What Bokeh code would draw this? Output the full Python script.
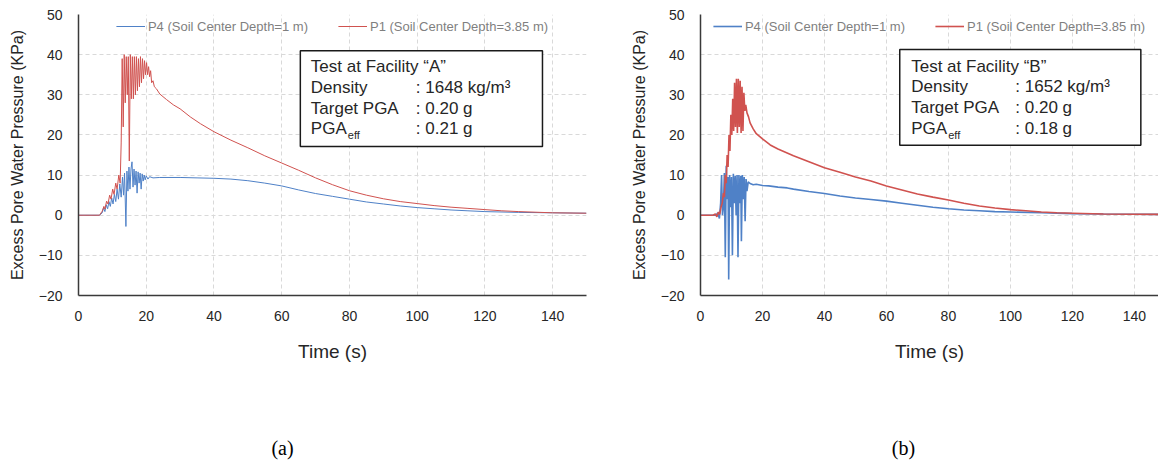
from bokeh.plotting import figure
from bokeh.layouts import row
from bokeh.models import Range1d, Label, BoxAnnotation, Legend, LegendItem, FixedTicker, LinearAxis
from bokeh.embed import file_html
from bokeh.resources import INLINE

# ---------------- data ----------------
x_ticks = [0, 20, 40, 60, 80, 100, 120, 140]
y_ticks = [-20, -10, 0, 10, 20, 30, 40, 50]

# (a) Facility A
a_p4_t = [0, 6.2, 7, 7.4, 7.8, 8.2, 8.6, 9, 9.4, 9.8, 10.2, 10.6, 11, 11.4, 11.8, 12.2, 12.6, 13, 13.3, 13.6,
          14.0, 14.3, 14.6, 14.9, 15.2, 15.5, 15.8, 16.1, 16.4, 16.7, 17, 17.3, 17.6, 17.9, 18.2, 18.5, 18.8,
          19.1, 19.4, 19.7, 20, 20.5, 21, 22, 24, 30, 35, 40, 45, 50, 55, 60, 65, 70, 75, 80, 85, 90, 95, 100,
          105, 110, 115, 120, 130, 140, 150]
a_p4_v = [0, 0, 0.6, 1.8, 0.9, 2.6, 1.6, 3.4, 2.2, 4.3, 2.8, 5.2, 3.4, 6.5, 4.0, 7.8, 4.5, 9.5, 5, 10.5,
          -2.8, 11, 6, 12, 6.5, 11.5, 13.3, 7, 11.5, 7.5, 11, 5.5, 10.8, 8, 10.5, 6.5, 10.3,
          8.5, 10, 8.8, 9.8, 9, 9.6, 9.3, 9.4, 9.4, 9.3, 9.2, 9.0, 8.6, 8.0, 7.3, 6.3, 5.4, 4.7, 4.0, 3.3, 2.8, 2.3, 1.9,
          1.6, 1.3, 1.1, 0.9, 0.7, 0.6, 0.5]
a_p1_t = [0, 6.2, 7, 7.5, 7.8, 8.3, 8.7, 9.2, 9.6, 10.1, 10.5, 11, 11.4, 11.9, 12.3, 12.6, 12.9, 13.2, 13.5,
          13.8, 14.1, 14.4, 14.7, 15.0, 15.3, 15.6, 15.9, 16.2, 16.5, 16.8, 17.1, 17.4, 17.7, 18.0, 18.3, 18.6,
          18.9, 19.2, 19.5, 19.8, 20.1, 20.4, 20.7, 21, 21.3, 21.6, 22, 22.4, 23, 24, 26, 28, 30, 33, 36, 40, 45,
          50, 55, 60, 65, 70, 75, 80, 85, 90, 95, 100, 105, 110, 115, 120, 125, 130, 140, 150]
a_p1_v = [0, 0, 1, 2.2, 1.5, 3.5, 2.8, 5, 4, 6.5, 5.2, 8, 6.5, 10, 8, 18, 39, 22, 40,
          28, 39.5, 30, 39.5, 13.5, 40, 29, 39.5, 29, 39.5, 30, 39.5, 31, 39, 32, 39.5, 33,
          39, 34, 38.5, 35, 38, 35, 37, 34.5, 36, 33, 33.5, 32, 31.5, 30.2, 28.8, 27.5, 26.5, 24.5, 22.8, 20.8, 18.7,
          16.8, 14.8, 13, 11.2, 9.3, 7.6, 6.1, 5, 4.1, 3.4, 2.9, 2.4, 2.0, 1.7, 1.4, 1.1, 0.9, 0.6, 0.5]

# (b) Facility B
b_p4_t = [0, 5, 5.6, 6.1, 6.5, 6.8, 7.1, 7.4, 7.7, 8.0, 8.3, 8.6, 8.9, 9.1, 9.4, 9.7, 10.0, 10.3, 10.6, 10.9,
          11.2, 11.5, 11.8, 12.1, 12.4, 12.7, 13.0, 13.2, 13.5, 13.8, 14.1, 14.4, 14.7, 15.0, 15.4, 16, 17, 18,
          20, 22, 25, 28, 30, 35, 40, 45, 50, 55, 60, 65, 70, 75, 80, 85, 90, 95, 100, 110, 120, 130, 140, 150]
b_p4_v = [0, 0, 0.6, -0.8, 3, 10, 0, 2, 10.5, -10.5, 12.3, 4, 9.5, -16, 10, 2, 9.5, -10, 10.3, 3,
          9.8, 0, 10, -10.5, 10, 3, 9.8, -6.5, 10, 4, 9.5, -1.5, 9, 6, 8.3, 7.9, 7.6, 7.7,
          7.4, 7.3, 7.0, 6.8, 6.5, 5.9, 5.4, 4.8, 4.3, 3.9, 3.5, 3.0, 2.5, 2.0, 1.6, 1.3, 1.1, 0.9, 0.8, 0.6, 0.4, 0.3, 0.25, 0.2]
b_p1_t = [0, 4, 4.8, 5.3, 5.8, 6.2, 6.6, 7, 7.4, 7.7, 8, 8.3, 8.6, 8.9, 9.2, 9.5, 9.8, 10.1, 10.4, 10.7, 11,
          11.3, 11.6, 11.9, 12.2, 12.5, 12.8, 13.1, 13.4, 13.7, 14.0, 14.3, 14.6, 15, 15.5, 16, 17, 18, 20, 22.5,
          25, 30, 35, 40, 45, 50, 55, 60, 65, 70, 75, 80, 85, 90, 95, 100, 105, 110, 115, 120, 130, 140, 150]
b_p1_v = [0, 0, 0.3, -0.4, 0.8, 0.2, 2, 3, 5.5, 4.5, 10, 8, 15, 12, 20, 16, 25, 20, 29, 21, 33,
          22, 34, 20.5, 34, 22, 33.5, 20.5, 32, 21, 30.5, 26, 27.5, 25.5, 24.5, 23, 21.5, 20.3, 19, 17.5,
          16.5, 14.8, 13.3, 11.8, 10.7, 9.5, 8.5, 7.3, 6.3, 5.3, 4.5, 3.8, 3.0, 2.3, 1.8, 1.4, 1.1, 0.8, 0.6, 0.5, 0.3, 0.25, 0.2]

legend_labels = ["P4 (Soil Center Depth=1 m)", "P1 (Soil Center Depth=3.85 m)"]
info_a = ["Test at Facility \u201cA\u201d", "Density", "Target PGA", "PGA"]
vals_a = [": 1648 kg/m\u00b3", ": 0.20 g", ": 0.21 g"]
info_b = ["Test at Facility \u201cB\u201d", "Density", "Target PGA", "PGA"]
vals_b = [": 1652 kg/m\u00b3", ": 0.20 g", ": 0.18 g"]
captions = ["(a)", "(b)"]

BLUE = "#4f81c7"
RED = "#d0524f"
FONT = "Liberation Sans"
TXT = "#262626"


def make_panel(width, mb_left, mb_right, x_end, p4t, p4v, p1t, p1v, lw, info, vals, box, caption):
    p = figure(width=width, height=461, output_backend="svg", toolbar_location=None,
               x_range=Range1d(0, x_end), y_range=Range1d(-20, 50),
               min_border_left=mb_left, min_border_right=mb_right, min_border_top=14,
               min_border_bottom=165)
    p.outline_line_color = None
    p.background_fill_color = "white"
    p.border_fill_color = "white"

    for g in (p.xgrid[0], p.ygrid[0]):
        g.grid_line_color = "#d9d9d9"
        g.grid_line_dash = "4 3"
        g.grid_line_width = 1

    p.xaxis.ticker = FixedTicker(ticks=x_ticks)
    p.yaxis.ticker = FixedTicker(ticks=y_ticks)
    for ax in (p.xaxis[0], p.yaxis[0]):
        ax.axis_line_color = "#3a3a3a"
        ax.axis_line_width = 1.5
        ax.major_tick_line_color = None
        ax.minor_tick_line_color = None
        ax.major_label_text_font = FONT
        ax.major_label_text_font_size = "14px"
        ax.major_label_text_color = TXT
        ax.axis_label_text_font = FONT
        ax.axis_label_text_font_style = "normal"
        ax.axis_label_text_color = TXT
    p.xaxis.major_label_standoff = 9
    p.yaxis.major_label_standoff = 10
    p.xaxis.axis_label = "Time (s)"
    p.xaxis.axis_label_text_font_size = "19px"
    p.xaxis.axis_label_standoff = 17
    p.yaxis.axis_label = "Excess Pore Water Pressure (KPa)"
    p.yaxis.axis_label_text_font_size = "16px"
    p.yaxis.axis_label_standoff = 10

    r4 = p.line(p4t, p4v, line_color=BLUE, line_width=lw)
    r1 = p.line(p1t, p1v, line_color=RED, line_width=lw)

    leg = Legend(items=[LegendItem(label=legend_labels[0], renderers=[r4]),
                        LegendItem(label=legend_labels[1], renderers=[r1])],
                 orientation="horizontal", location="top_center",
                 label_text_font=FONT, label_text_font_size="13px", label_text_color="#7f7f7f",
                 glyph_width=29, label_standoff=3, spacing=30, padding=0, margin=2,
                 background_fill_alpha=0, border_line_color=None)
    p.add_layout(leg)

    left, right, top, bottom, c1, c2, ys = box
    p.add_layout(BoxAnnotation(left=left, right=right, top=top, bottom=bottom,
                               fill_color="white", fill_alpha=1,
                               line_color="#1a1a1a", line_alpha=1, line_width=1.5, level="overlay"))
    for i, t in enumerate(info):
        p.add_layout(Label(x=c1, y=ys[i], text=t, text_font=FONT, text_font_size="17px",
                           text_color=TXT, text_baseline="middle", level="overlay"))
    for i, t in enumerate(vals):
        p.add_layout(Label(x=c2, y=ys[i + 1], text=t, text_font=FONT, text_font_size="17px",
                           text_color=TXT, text_baseline="middle", level="overlay"))
    p.add_layout(Label(x=c1, y=ys[3], x_offset=37, y_offset=-6, text="eff", text_font=FONT,
                       text_font_size="11px", text_color=TXT, text_baseline="middle", level="overlay"))

    # caption placed as a tick label of an extra, invisible axis (pixel-based range)
    frame_w, cap_px = caption[1], caption[2]
    p.extra_x_ranges = {"cap": Range1d(0, frame_w)}
    cap_axis = LinearAxis(x_range_name="cap", ticker=FixedTicker(ticks=[cap_px]),
                          major_label_overrides={cap_px: caption[0]},
                          axis_line_color=None, major_tick_line_color=None,
                          minor_tick_line_color=None, major_tick_in=0, major_tick_out=0,
                          major_label_standoff=72,
                          major_label_text_font="Liberation Serif",
                          major_label_text_font_size="20px",
                          major_label_text_color="#000000")
    p.add_layout(cap_axis, "below")
    return p


pa = make_panel(618, 78, 32, 150, a_p4_t, a_p4_v, a_p1_t, a_p1_v, 1.0, info_a, vals_a,
                (65.5, 137, 41.0, 17.1, 68.6, 99.6, [37.0, 31.8, 26.7, 21.5]), (captions[0], 508, 204))
pb = make_panel(540, 82, 0, 147.8, b_p4_t, b_p4_v, b_p1_t, b_p1_v, 1.6, info_b, vals_b,
                (64.3, 142.1, 41.3, 17.4, 68.0, 101.6, [37.0, 32.0, 26.8, 21.5]), (captions[1], 458, 203))

layout = row(pa, pb)
open("out.html", "w").write(file_html(layout, INLINE))
